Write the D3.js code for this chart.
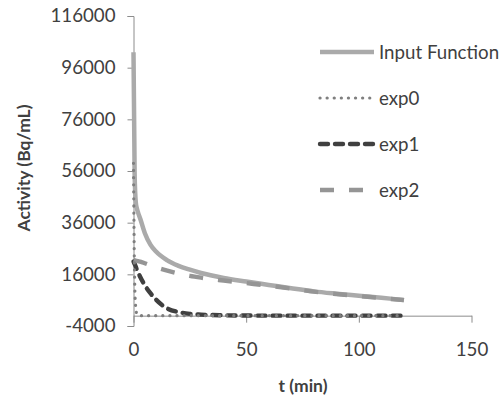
<!DOCTYPE html>
<html><head><meta charset="utf-8">
<script src="https://cdn.jsdelivr.net/npm/d3@7"></script>
<style>
body{margin:0;background:#fff;}
text{font-family:Lato,"Open Sans",sans-serif;fill:#404040;}
</style></head><body>
<svg id="c" width="502" height="401"></svg>
<script>
const times = [0, 0.5, 1, 1.5, 2, 3, 5, 7.5, 10, 15, 20, 25, 30, 40, 50, 60, 70, 80, 90, 100, 110, 120];
const inputFunction = [102000, 55000, 44000, 41500, 40000, 37500, 32000, 27500, 24800, 21400, 19300, 17800, 16500, 14600, 13200, 11900, 10600, 9400, 8500, 7700, 6900, 6100];
const exp0 = [59000, 14000, 3000, 600, 100, 0, 0, 0, 0, 0, 0, 0, 0, 0, 0, 0, 0, 0, 0, 0, 0, 0];
const exp1 = [21000, 20000, 19000, 17800, 16800, 15000, 11800, 8700, 6200, 2800, 1400, 700, 400, 150, 50, 0, 0, 0, 0, 0, 0, 0];
const exp2 = [21500, 21400, 21300, 21200, 21100, 20900, 20300, 19500, 18700, 17400, 16300, 15400, 14700, 13600, 12600, 11600, 10500, 9300, 8400, 7600, 6800, 6000];
const yTicks = [-4000, 16000, 36000, 56000, 76000, 96000, 116000];
const xTicks = [0, 50, 100, 150];
const seriesNames = ["Input Function", "exp0", "exp1", "exp2"];

const svg = d3.select("#c");
const x = d3.scaleLinear().domain([0, 150]).range([133.5, 471.5]);
const y = d3.scaleLinear().domain([-4000, 116000]).range([326, 16]);
const axisColor = "#8c8c8c";
const tickFont = "18.7px";

// y axis
const ya = svg.append("g").attr("transform", `translate(${x(0)},0)`)
  .call(d3.axisLeft(y).tickValues(yTicks).tickFormat(d => String(d)).tickSize(6).tickPadding(12));
ya.select(".domain").attr("stroke", axisColor);
ya.selectAll(".tick line").attr("stroke", axisColor);
ya.selectAll(".tick text").attr("font-size", tickFont).attr("fill", "#404040").style("font-family", "Lato");

// x axis at y=0
const xa = svg.append("g").attr("transform", `translate(0,${y(0)})`)
  .call(d3.axisBottom(x).tickValues(xTicks).tickFormat(d => String(d)).tickSize(7).tickPadding(20).tickSizeOuter(0));
xa.select(".domain").attr("stroke", axisColor);
xa.selectAll(".tick line").attr("stroke", axisColor);
xa.selectAll(".tick text").attr("font-size", tickFont).attr("fill", "#404040").style("font-family", "Lato");

// axis titles
svg.append("text").attr("x", 303).attr("y", 392).attr("text-anchor", "middle")
  .attr("font-size", "17.5px").attr("font-weight", "bold").text("t (min)");
svg.append("text").attr("transform", "translate(30,168) rotate(-90)").attr("text-anchor", "middle")
  .attr("font-size", "17.5px").attr("font-weight", "bold").text("Activity (Bq/mL)");

const styles = [
  {data: inputFunction, color: "#aaaaaa", width: 4.5, dash: null, cap: "butt"},
  {data: exp0, color: "#7f7f7f", width: 3.2, dash: "0.1 7", cap: "round"},
  {data: exp1, color: "#404040", width: 4.4, dash: "8 7", cap: "round"},
  {data: exp2, color: "#959595", width: 4.4, dash: "14 15", cap: "butt"}
];
const line = d3.line().x((d, i) => x(times[i])).y(d => y(d)).curve(d3.curveMonotoneX);

const order = [0, 2, 3, 1];
order.forEach(k => {
  const s = styles[k];
  svg.append("path").datum(s.data).attr("d", line)
    .attr("fill", "none").attr("stroke", s.color).attr("stroke-width", s.width)
    .attr("stroke-dasharray", s.dash).attr("stroke-linecap", s.cap).attr("stroke-linejoin", "round");
});

// legend
const legY = [52, 98, 144, 190];
const legEnd = [374, 370, 374, 364];
seriesNames.forEach((name, i) => {
  const s = styles[i];
  svg.append("line").attr("x1", 320).attr("x2", legEnd[i]).attr("y1", legY[i]).attr("y2", legY[i])
    .attr("stroke", s.color).attr("stroke-width", s.width).attr("stroke-dasharray", s.dash)
    .attr("stroke-linecap", s.cap);
  svg.append("text").attr("x", 379).attr("y", legY[i]).attr("dy", "0.35em")
    .attr("font-size", tickFont).text(name);
});
</script>
</body></html>
